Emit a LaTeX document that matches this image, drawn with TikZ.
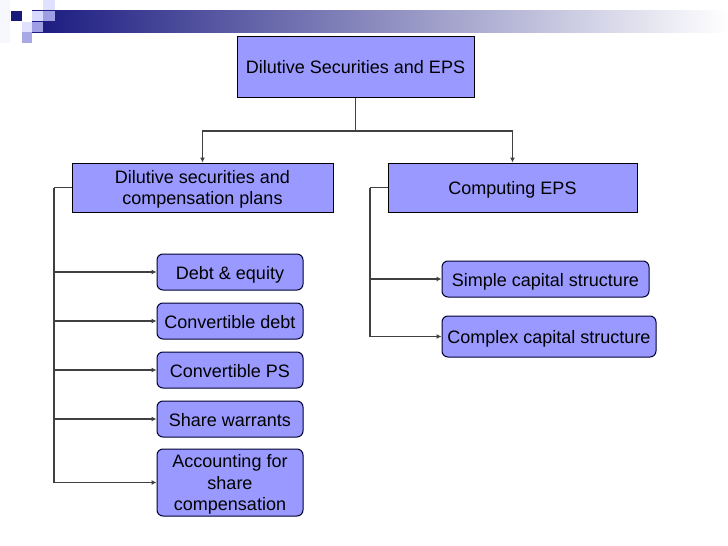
\documentclass[tikz,border=0pt]{standalone}
\usepackage{fontspec}
\setmainfont{Liberation Sans}
\usetikzlibrary{arrows.meta}
\definecolor{boxfill}{HTML}{9999FF}
\definecolor{navy}{HTML}{1A1A80}
\definecolor{lineg}{HTML}{404040}
\tikzset{
  box/.style={draw=black, line width=1pt, fill=boxfill, inner sep=0pt, align=center,
    text depth=0pt, font=\fontsize{18}{21.5}\selectfont},
  one/.style={text height=14pt},
  rbox/.style={box, draw=black!80!blue, rounded corners=6pt},
  link/.style={draw=lineg, line width=1.3pt},
  arr/.style={link, -{Latex[length=5pt,width=5pt]}}
}
\begin{document}
\begin{tikzpicture}[x=1pt, y=-1pt]
  \useasboundingbox (0,0) rectangle (728,546);
  % header
  \fill[black!7!blue!3] (0,0) rectangle (10,43);
  \shade[left color=navy, middle color=navy!45!white, right color=white] (32,10) rectangle (728,32);
  \fill[navy!95!black] (11,11) rectangle (22,21);
  \fill[blue!12!white] (43,0) rectangle (55,10);
  \fill[blue!15!white] (32,11) rectangle (43,21);
  \fill[blue!35!white!80!gray] (43,11) rectangle (55,21);
  \fill[blue!12!white] (22,22) rectangle (32,32);
  \fill[blue!35!white!80!gray] (32,22) rectangle (43,32);
  \fill[blue!30!white!80!gray] (22,32) rectangle (32,43);
  % boxes
  \node[box, one, minimum width=237pt, minimum height=61pt] (top) at (355.5,66.5)
    {Dilutive Securities and EPS};
  \node[box, minimum width=261pt, minimum height=49pt] (dil) at (202.5,187.5)
    {Dilutive securities and\\ compensation plans};
  \node[box, one, minimum width=249pt, minimum height=49pt] (comp) at (512.5,187.5)
    {Computing EPS};
  \node[rbox, one, minimum width=146pt, minimum height=36pt] (debt) at (230,272) {Debt \& equity};
  \node[rbox, one, minimum width=146pt, minimum height=36pt] (cdebt) at (230,321) {Convertible debt};
  \node[rbox, one, minimum width=146pt, minimum height=36pt] (cps) at (230,370) {Convertible PS};
  \node[rbox, one, minimum width=146pt, minimum height=36pt] (warr) at (230,419) {Share warrants};
  \node[rbox, minimum width=146pt, minimum height=67pt] (acc) at (230,482.5)
    {Accounting for\\ share\\ compensation};
  \node[rbox, one, minimum width=207pt, minimum height=36pt] (simple) at (545.5,279)
    {Simple capital structure};
  \node[rbox, one, minimum width=214pt, minimum height=41pt] (complex) at (549,336.5)
    {Complex capital structure};
  % connectors
  \coordinate (split) at (355.5,131);
  \coordinate (lbus) at (54,187.5);
  \coordinate (rbus) at (370,187.5);
  \draw[link] (top.south) -- (split);
  \draw[arr] (split) -| (dil.north);
  \draw[arr] (split) -| (comp.north);
  \draw[link] (dil.west) -- (lbus);
  \foreach \n in {debt,cdebt,cps,warr,acc}
    \draw[arr] (lbus) |- (\n.west);
  \draw[link] (comp.west) -- (rbus);
  \foreach \n in {simple,complex}
    \draw[arr] (rbus) |- (\n.west);
\end{tikzpicture}
\end{document}
